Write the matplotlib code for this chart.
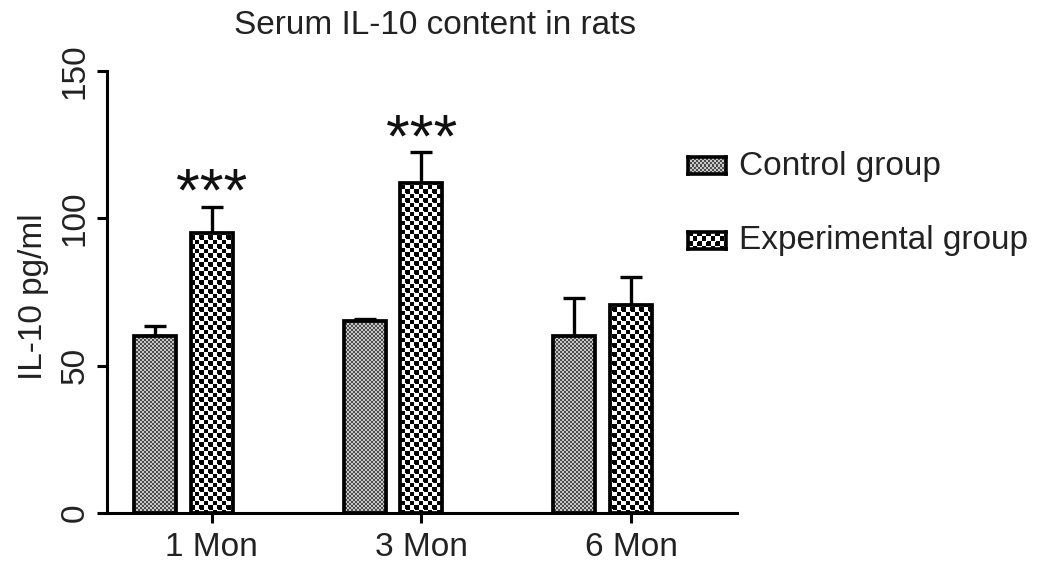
import numpy as np
import matplotlib
matplotlib.use("Agg")
import matplotlib.pyplot as plt

# ---- data ----
groups = ["1 Mon", "3 Mon", "6 Mon"]
control_mean = [60.0, 65.0, 60.0]
control_err = [3.5, 1.0, 13.0]
exp_mean = [95.0, 112.0, 70.5]
exp_err = [9.0, 10.5, 9.5]
series_names = ["Control group", "Experimental group"]
sig_labels = ["***", "***", ""]
yticks = [0, 50, 100, 150]

plt.rcParams['font.family'] = ['Liberation Sans', 'DejaVu Sans']
FS = 24

fig = plt.figure(figsize=(10.37, 5.73), dpi=100)
ax = fig.add_axes([107/1037, 60/573, 630/1037, 442/573])

x = np.arange(len(groups))
off = 0.135
bw = 0.2
xc = x - off
xe = x + off

ax.set_xlim(-0.364, 2.64)
ax.set_ylim(0, 150)

def texture(kind, h, w, x0, y0):
    yy, xx = np.mgrid[0:h, 0:w]
    xx = xx + int(x0)
    yy = yy + int(y0)
    if kind == "control":
        c = ((xx // 2) + (yy // 2)) % 2
        img = np.where(c == 0, 0.30, 0.78)
    else:
        p = 4.5
        cx = np.floor(xx / p)
        cy = np.floor(yy / p)
        c = (cx + cy) % 2
        fx = (xx / p) - cx - 0.5
        fy = (yy / p) - cy - 0.5
        r = np.sqrt(fx**2 + fy**2)
        img = np.where((c == 0) & (r < 0.68), 0.0, 1.0)
    return img

def textured_bars(xs, means, kind):
    bars = ax.bar(xs, means, width=bw, facecolor='none', edgecolor='black',
                  linewidth=2.7, zorder=3)
    for b in bars:
        x0, y0 = b.get_x(), b.get_y()
        x1, y1 = x0 + b.get_width(), y0 + b.get_height()
        p0 = ax.transData.transform((x0, y0))
        p1 = ax.transData.transform((x1, y1))
        w = max(1, int(round(p1[0] - p0[0])))
        h = max(1, int(round(p1[1] - p0[1])))
        img = texture(kind, h, w, p0[0], p0[1])
        im = ax.imshow(img, cmap='gray', vmin=0, vmax=1, extent=(x0, x1, y0, y1),
                       origin='lower', interpolation='nearest', aspect='auto', zorder=2)
        im.set_clip_path(b)
    return bars

ax.errorbar(xc, control_mean, yerr=[np.zeros(3), control_err], fmt='none',
            ecolor='black', elinewidth=2.4, capsize=8, capthick=2.4, zorder=1)
ax.errorbar(xe, exp_mean, yerr=[np.zeros(3), exp_err], fmt='none',
            ecolor='black', elinewidth=2.4, capsize=8, capthick=2.4, zorder=1)
textured_bars(xc, control_mean, "control")
textured_bars(xe, exp_mean, "exp")
ax.set_xlim(-0.364, 2.64)
ax.set_ylim(0, 150)

for xi, m, e, s in zip(xe, exp_mean, exp_err, sig_labels):
    if s:
        ax.text(xi, m + e - 1.5, s, ha='center', va='baseline', fontsize=44,
                family='Liberation Sans', color='#111111')

for sp in ['top', 'right']:
    ax.spines[sp].set_visible(False)
for sp in ['left', 'bottom']:
    ax.spines[sp].set_linewidth(2.2)

ax.set_xticks(xe)
ax.set_xticklabels(groups, fontsize=FS, color='#222222')
ax.set_yticks(yticks)
ax.set_yticklabels([str(v) for v in yticks], fontsize=FS, rotation=90, va='center',
                   color='#222222')
ax.tick_params(axis='both', direction='out', length=7, width=2.2)
ax.tick_params(axis='x', pad=7)
ax.tick_params(axis='y', pad=5)
ax.set_ylabel("IL-10 pg/ml", fontsize=FS, color='#222222')
ax.yaxis.set_label_coords(-0.092, 0.49)

fig.text(435/1037, 1 - 26/573, "Serum IL-10 content in rats", fontsize=FS,
         ha='center', va='center', color='#222222')

# legend
leg_y = [166, 241]
kinds = ["control", "exp"]
for name, ly, kind in zip(series_names, leg_y, kinds):
    sw = fig.add_axes([688/1037, 1 - (ly + 8)/573, 38/1037, 17/573])
    img = texture(kind, 17, 38, 0, 0)
    sw.imshow(img, cmap='gray', vmin=0, vmax=1, interpolation='nearest', aspect='auto')
    sw.set_xticks([]); sw.set_yticks([])
    for sp in sw.spines.values():
        sp.set_linewidth(2.6)
    fig.text(739/1037, 1 - ly/573, name, fontsize=FS, ha='left', va='center',
             color='#222222')

fig.savefig("out.png", dpi=100)
